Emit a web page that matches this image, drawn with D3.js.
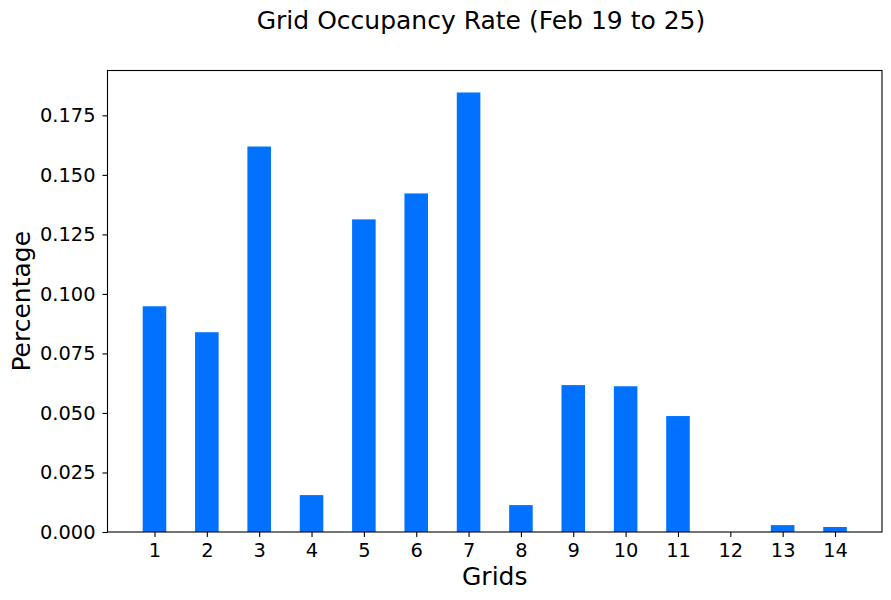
<!DOCTYPE html>
<html>
<head>
<meta charset="utf-8">
<script src="https://cdn.jsdelivr.net/npm/d3@7"></script>
<style>
  body { margin: 0; background: #fff; }
  svg text { font-family: "DejaVu Sans", sans-serif; fill: #000; }
</style>
</head>
<body>
<div id="chart"></div>
<script>
const grids = [1, 2, 3, 4, 5, 6, 7, 8, 9, 10, 11, 12, 13, 14];
const rates = [0.0948, 0.0839, 0.1619, 0.0155, 0.1313, 0.1422, 0.1846,
  0.0113, 0.0617, 0.0612, 0.0487, 0, 0.0029, 0.0021];
const yTicks = [0, 0.025, 0.05, 0.075, 0.1, 0.125, 0.15, 0.175];
const title = "Grid Occupancy Rate (Feb 19 to 25)";

const W = 891, H = 600;
const margin = { top: 70.5, right: 9, bottom: 68, left: 107.5 };
const barWidth = 0.45;

const svg = d3.select("#chart").append("svg")
  .attr("width", W).attr("height", H);

// matplotlib style 5% margins around the bars
const xMin = d3.min(grids) - barWidth / 2, xMax = d3.max(grids) + barWidth / 2;
const xPad = (xMax - xMin) * 0.05;
const x = d3.scaleLinear()
  .domain([xMin - xPad, xMax + xPad])
  .range([margin.left, W - margin.right]);

const y = d3.scaleLinear()
  .domain([0, d3.max(rates) * 1.05])
  .range([H - margin.bottom, margin.top]);

svg.selectAll("rect.bar")
  .data(rates)
  .enter()
  .append("rect")
  .attr("class", "bar")
  .attr("x", (d, i) => x(grids[i] - barWidth / 2))
  .attr("width", (d, i) => x(grids[i] + barWidth / 2) - x(grids[i] - barWidth / 2))
  .attr("y", (d) => y(d))
  .attr("height", (d) => y(0) - y(d))
  .attr("fill", "#0072ff");

const xAxis = svg.append("g")
  .attr("transform", `translate(0,${H - margin.bottom})`)
  .call(d3.axisBottom(x).tickValues(grids).tickSize(5).tickPadding(6).tickFormat(d3.format("d")));

const yAxis = svg.append("g")
  .attr("transform", `translate(${margin.left},0)`)
  .call(d3.axisLeft(y).tickValues(yTicks).tickSize(5).tickPadding(7).tickFormat(d3.format(".3f")));

[xAxis, yAxis].forEach((g) => {
  g.select(".domain").remove();
  g.selectAll(".tick line").attr("stroke", "#000").attr("stroke-width", 1.1);
  g.selectAll(".tick text").attr("font-size", "19.4px").attr("fill", "#000")
    .style("font-family", "DejaVu Sans, sans-serif");
});

// frame
svg.append("rect")
  .attr("x", margin.left).attr("y", margin.top)
  .attr("width", W - margin.right - margin.left)
  .attr("height", H - margin.bottom - margin.top)
  .attr("fill", "none").attr("stroke", "#000").attr("stroke-width", 1.1);

// title is centred on the figure, not the axes
svg.append("text")
  .attr("x", 481)
  .attr("y", 29)
  .attr("text-anchor", "middle")
  .attr("font-size", "25px")
  .text(title);

svg.append("text")
  .attr("x", (margin.left + W - margin.right) / 2)
  .attr("y", 585)
  .attr("text-anchor", "middle")
  .attr("font-size", "25px")
  .text("Grids");

svg.append("text")
  .attr("transform", `translate(30,${(margin.top + H - margin.bottom) / 2}) rotate(-90)`)
  .attr("text-anchor", "middle")
  .attr("font-size", "25px")
  .text("Percentage");
</script>
</body>
</html>
